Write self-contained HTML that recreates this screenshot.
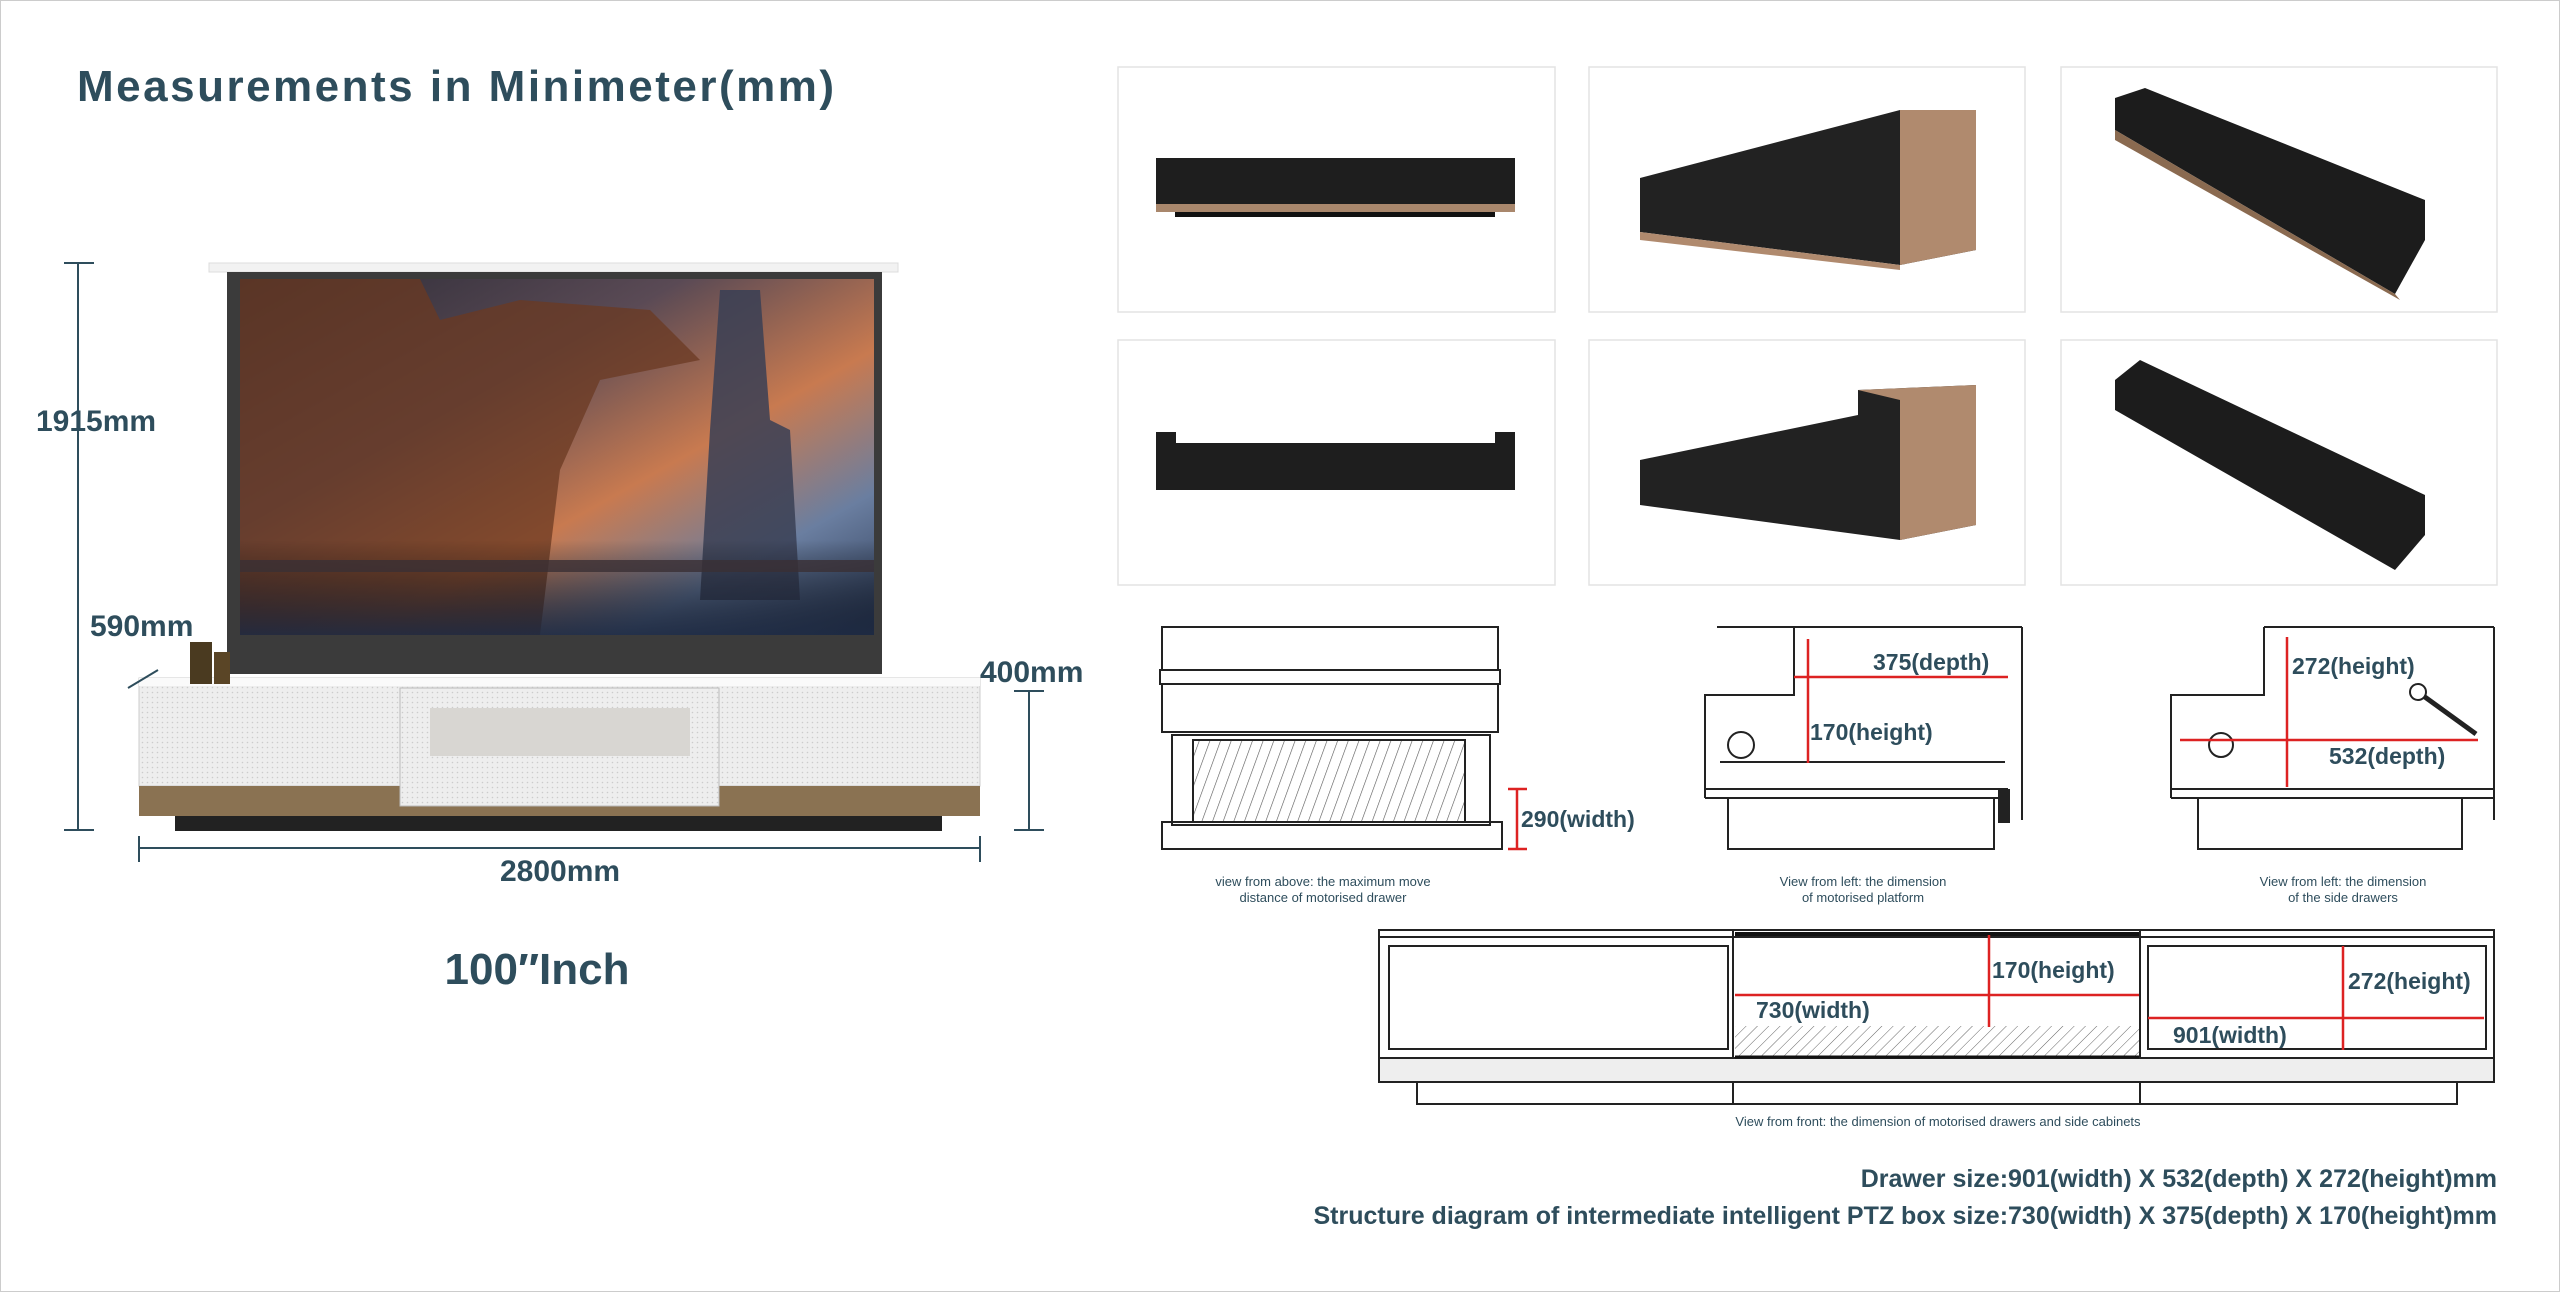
<!DOCTYPE html>
<html><head><meta charset="utf-8"><style>
html,body{margin:0;padding:0;background:#fff;overflow:hidden}
svg{display:block}
text{font-family:"Liberation Sans",sans-serif;fill:#2e4d5c}
</style></head><body>
<svg width="2560" height="1292" viewBox="0 0 2560 1292" xmlns="http://www.w3.org/2000/svg">
<defs>
<linearGradient id="sky" x1="0" y1="0" x2="1" y2="1">
<stop offset="0" stop-color="#2a2a35"/><stop offset="0.35" stop-color="#5a4a55"/><stop offset="0.6" stop-color="#c87a50"/><stop offset="0.8" stop-color="#6a7ea0"/><stop offset="1" stop-color="#2c3a55"/>
</linearGradient>
<linearGradient id="cityb" x1="0" y1="0" x2="0" y2="1">
<stop offset="0" stop-color="#000" stop-opacity="0"/><stop offset="1" stop-color="#1c2840" stop-opacity="0.9"/>
</linearGradient>
<pattern id="hatch" width="10" height="10" patternUnits="userSpaceOnUse" patternTransform="rotate(20)">
<line x1="0" y1="0" x2="0" y2="10" stroke="#555" stroke-width="1.2"/></pattern>
<pattern id="hatch2" width="8" height="8" patternUnits="userSpaceOnUse" patternTransform="rotate(45)">
<line x1="0" y1="0" x2="0" y2="8" stroke="#666" stroke-width="1"/></pattern>
<pattern id="dots" width="5" height="5" patternUnits="userSpaceOnUse"><rect width="5" height="5" fill="#eee"/><circle cx="2.5" cy="2.5" r="0.8" fill="#ccc"/></pattern>
</defs>
<rect x="0.5" y="0.5" width="2559" height="1291" fill="#fff" stroke="#ccc"/>
<text x="77" y="101" font-size="44" font-weight="bold" letter-spacing="2.5">Measurements in Minimeter(mm)</text>

<!-- TV -->
<rect x="209" y="263" width="689" height="9" fill="#f2f2f2" stroke="#ddd"/>
<rect x="227" y="272" width="655" height="402" fill="#3b3b3b"/>
<rect x="240" y="279" width="634" height="356" fill="url(#sky)"/>
<path d="M240 279 L420 279 L440 320 L520 300 L650 310 L700 360 L600 380 L560 470 L540 635 L240 635Z" fill="#6b3a22" opacity="0.75"/>
<path d="M720 290 L760 290 L770 420 L790 430 L800 600 L700 600 L710 430Z" fill="#3a3f55" opacity="0.85"/>
<rect x="240" y="540" width="634" height="95" fill="url(#cityb)"/>
<rect x="240" y="560" width="634" height="12" fill="#3a3035" opacity="0.8"/>
<!-- cabinet -->
<rect x="139" y="678" width="841" height="108" fill="url(#dots)" stroke="#ccc"/>
<rect x="139" y="678" width="841" height="8" fill="#fafafa"/>
<rect x="139" y="786" width="841" height="30" fill="#8a7252"/>
<rect x="175" y="816" width="767" height="15" fill="#222"/>
<rect x="400" y="688" width="319" height="118" fill="url(#dots)" stroke="#bbb"/>
<rect x="430" y="708" width="260" height="48" fill="#d8d6d2"/>
<rect x="190" y="642" width="22" height="42" fill="#4a3a20"/><rect x="214" y="652" width="16" height="32" fill="#5a4526"/>
<!-- dimensions -->
<g stroke="#2e4d5c" stroke-width="2" fill="none">
<line x1="78" y1="263" x2="78" y2="830"/><line x1="64" y1="263" x2="94" y2="263"/><line x1="64" y1="830" x2="94" y2="830"/>
<line x1="1029" y1="691" x2="1029" y2="830"/><line x1="1014" y1="691" x2="1044" y2="691"/><line x1="1014" y1="830" x2="1044" y2="830"/>
<line x1="139" y1="848" x2="980" y2="848"/><line x1="139" y1="836" x2="139" y2="862"/><line x1="980" y1="836" x2="980" y2="862"/>
<line x1="128" y1="688" x2="158" y2="670"/>
</g>
<g font-weight="bold" font-size="30">
<text x="36" y="431">1915mm</text>
<text x="90" y="636">590mm</text>
<text x="980" y="682">400mm</text>
<text x="560" y="881" text-anchor="middle">2800mm</text>
</g>
<text x="537" y="984" font-size="44" font-weight="bold" text-anchor="middle">100″Inch</text>

<!-- photo boxes -->
<g fill="none" stroke="#e3e3e3" stroke-width="1.5">
<rect x="1118" y="67" width="437" height="245"/><rect x="1589" y="67" width="436" height="245"/><rect x="2061" y="67" width="436" height="245"/>
<rect x="1118" y="340" width="437" height="245"/><rect x="1589" y="340" width="436" height="245"/><rect x="2061" y="340" width="436" height="245"/>
</g>
<rect x="1156" y="158" width="359" height="46" fill="#1e1e1e"/><rect x="1156" y="204" width="359" height="8" fill="#a9876c"/><rect x="1175" y="212" width="320" height="5" fill="#111"/>
<polygon points="1640,178 1900,110 1976,110 1976,250 1900,265 1640,232" fill="#222"/>
<polygon points="1900,110 1976,110 1976,250 1900,265" fill="#b08a6e"/>
<polygon points="1640,232 1900,265 1900,270 1640,240" fill="#b08a6e"/>
<polygon points="2115,98 2145,88 2425,200 2425,240 2395,294 2115,130" fill="#1c1c1c"/>
<polygon points="2115,130 2395,294 2400,300 2115,140" fill="#8a6a50"/>
<rect x="1156" y="443" width="359" height="47" fill="#1e1e1e"/><rect x="1156" y="432" width="20" height="12" fill="#1e1e1e"/><rect x="1495" y="432" width="20" height="12" fill="#1e1e1e"/>
<polygon points="1640,460 1858,415 1858,390 1976,385 1976,525 1900,540 1640,505" fill="#222"/>
<polygon points="1858,390 1976,385 1976,525 1900,540 1900,400" fill="#b08a6e"/>
<polygon points="2115,380 2140,360 2425,495 2425,535 2395,570 2115,410" fill="#1c1c1c"/>

<!-- line drawings -->
<g fill="none" stroke="#222" stroke-width="2">
<!-- drawing 1 -->
<rect x="1162" y="627" width="336" height="43"/><rect x="1160" y="670" width="340" height="14"/>
<rect x="1162" y="684" width="336" height="48"/>
<rect x="1172" y="735" width="318" height="90"/>
<rect x="1193" y="740" width="272" height="82" fill="url(#hatch)"/>
<rect x="1162" y="822" width="340" height="27"/>
<!-- drawing 2 -->
<path d="M1717 627 H2022 M1794 627 V695 H1705 V798 M2022 627 V820 M1705 789 H2008 M1705 798 H2008 M1728 798 V849 H1994 V798 M1720 762 H2005 M1794 695 H1717"/>
<rect x="1999" y="790" width="10" height="32" fill="#222"/>
<circle cx="1741" cy="745" r="13"/>
<!-- drawing 3 -->
<path d="M2264 627 H2494 M2264 627 V695 H2171 V798 M2494 627 V820 M2171 789 H2494 M2171 798 H2494 M2198 798 V849 H2462 V798"/>
<circle cx="2221" cy="745" r="12"/>
<line x1="2418" y1="692" x2="2476" y2="734" stroke-width="5"/><circle cx="2418" cy="692" r="8" fill="#fff"/>
<!-- front view -->
<rect x="1379" y="930" width="1115" height="152"/><line x1="1379" y1="937" x2="2494" y2="937"/><line x1="1379" y1="1058" x2="2494" y2="1058"/>
<line x1="1733" y1="930" x2="1733" y2="1104"/><line x1="2140" y1="930" x2="2140" y2="1104"/>
<rect x="1417" y="1082" width="1040" height="22"/>
<rect x="1389" y="946" width="339" height="103"/><rect x="2148" y="946" width="338" height="103"/>
</g>
<rect x="1380" y="1059" width="1113" height="22" fill="#eee"/>
<rect x="1735" y="1026" width="404" height="30" fill="url(#hatch2)"/>
<line x1="1735" y1="934" x2="2139" y2="934" stroke="#111" stroke-width="4"/>
<line x1="1735" y1="1057" x2="2139" y2="1057" stroke="#111" stroke-width="3"/>
<g stroke="#d22" stroke-width="2.5">
<line x1="1517" y1="789" x2="1517" y2="849"/><line x1="1508" y1="789" x2="1527" y2="789"/><line x1="1508" y1="849" x2="1527" y2="849"/>
<line x1="1808" y1="639" x2="1808" y2="763"/><line x1="1794" y1="677" x2="2008" y2="677"/>
<line x1="2287" y1="637" x2="2287" y2="787"/><line x1="2180" y1="740" x2="2478" y2="740"/>
<line x1="1989" y1="935" x2="1989" y2="1027"/><line x1="1735" y1="995" x2="2139" y2="995"/>
<line x1="2343" y1="946" x2="2343" y2="1050"/><line x1="2148" y1="1018" x2="2484" y2="1018"/>
</g>
<g font-size="23" font-weight="bold">
<text x="1521" y="827">290(width)</text>
<text x="1873" y="670">375(depth)</text>
<text x="1810" y="740">170(height)</text>
<text x="2292" y="674">272(height)</text>
<text x="2329" y="764">532(depth)</text>
<text x="1992" y="978">170(height)</text>
<text x="1756" y="1018">730(width)</text>
<text x="2348" y="989">272(height)</text>
<text x="2173" y="1043">901(width)</text>
</g>
<g font-size="13" text-anchor="middle">
<text x="1323" y="886">view from above: the maximum move</text><text x="1323" y="902">distance of motorised drawer</text>
<text x="1863" y="886">View from left: the dimension</text><text x="1863" y="902">of motorised platform</text>
<text x="2343" y="886">View from left: the dimension</text><text x="2343" y="902">of the side drawers</text>
<text x="1938" y="1126">View from front: the dimension of motorised drawers and side cabinets</text>
</g>
<g font-size="25" font-weight="bold" text-anchor="end">
<text x="2497" y="1187">Drawer size:901(width) X 532(depth) X 272(height)mm</text>
<text x="2497" y="1224">Structure diagram of intermediate intelligent PTZ box size:730(width) X 375(depth) X 170(height)mm</text>
</g>
</svg>
</body></html>
